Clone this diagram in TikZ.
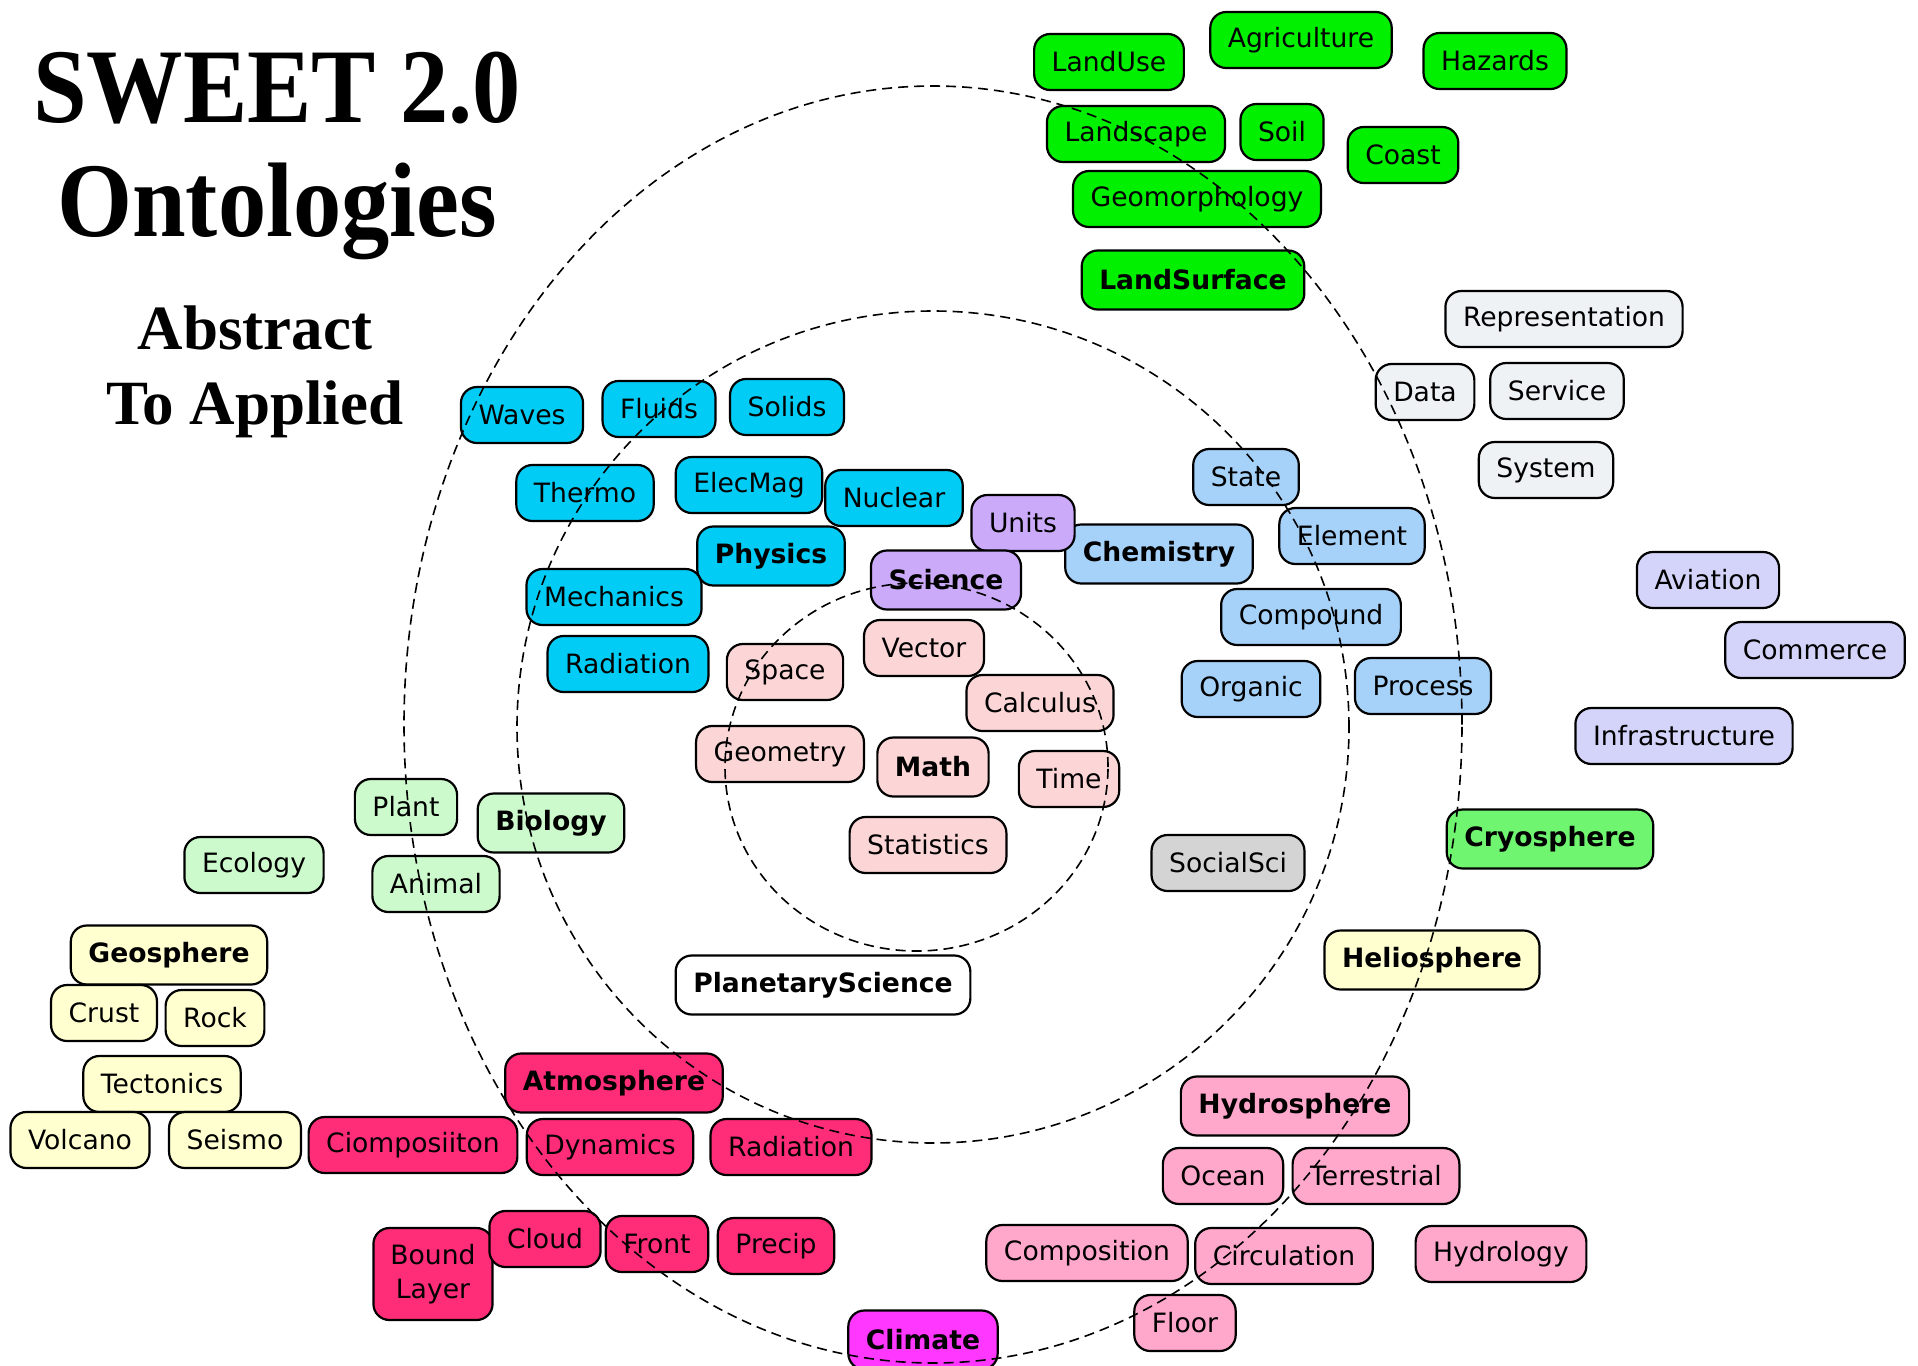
\documentclass[tikz,border=0pt]{standalone}
\usepackage{fontspec}
\setmainfont{DejaVu Sans}
\newfontfamily\titlefont{Liberation Serif}[FakeStretch=0.91]
\newfontfamily\subfont{Liberation Serif}

\definecolor{landgreen}{RGB}{0,240,0}
\definecolor{infogray}{RGB}{238,242,245}
\definecolor{humanlav}{RGB}{212,212,250}
\definecolor{cryogreen}{RGB}{112,245,112}
\definecolor{chemblue}{RGB}{166,210,250}
\definecolor{scipurple}{RGB}{204,170,250}
\definecolor{physcyan}{RGB}{0,204,245}
\definecolor{mathpink}{RGB}{252,214,214}
\definecolor{socgray}{RGB}{212,212,212}
\definecolor{biogreen}{RGB}{204,250,204}
\definecolor{geoyellow}{RGB}{255,255,208}
\definecolor{atmored}{RGB}{255,45,120}
\definecolor{climmagenta}{RGB}{255,55,255}
\definecolor{hydropink}{RGB}{255,168,204}

\begin{document}
\begin{tikzpicture}[x=0.5pt, y=-0.5pt,
	onto/.style = {draw, line width=1.1pt, rounded corners=8pt, inner xsep=8.8pt,
		minimum height=28pt, font=\fontsize{13.3}{16}\selectfont},
	head/.style = {font=\fontsize{13.3}{16}\selectfont\bfseries, minimum height=29.5pt},
	landbox/.style = {onto, fill=landgreen},
	infobox/.style = {onto, fill=infogray},
	humanbox/.style = {onto, fill=humanlav},
	chembox/.style = {onto, fill=chemblue},
	scibox/.style = {onto, fill=scipurple},
	physbox/.style = {onto, fill=physcyan},
	mathbox/.style = {onto, fill=mathpink},
	biobox/.style = {onto, fill=biogreen},
	geobox/.style = {onto, fill=geoyellow},
	atmobox/.style = {onto, fill=atmored},
	hydrobox/.style = {onto, fill=hydropink},
	ring/.style = {draw, line width=0.8pt, dash pattern=on 5pt off 3pt}
]
\useasboundingbox (0,0) rectangle (1918,1366);
\fill [white] (0,0) rectangle (1918,1366);

% title
\node [anchor=base, font=\titlefont\bfseries\fontsize{53}{57}\selectfont] (title) at (277,122) {SWEET 2.0};
\node [anchor=base, font=\titlefont\bfseries\fontsize{53}{57}\selectfont] (title2) at (277,236) {Ontologies};
\node [anchor=base, font=\subfont\bfseries\fontsize{31.5}{35}\selectfont] (sub) at (255,349) {Abstract};
\node [anchor=base, font=\subfont\bfseries\fontsize{31.5}{35}\selectfont] (sub2) at (255,424) {To Applied};

% land surface
\node [landbox] (landuse) at (1109,62) {LandUse};
\node [landbox] (agri) at (1301,40) {Agriculture};
\node [landbox] (hazards) at (1495,61) {Hazards};
\node [landbox] (landscape) at (1136,134) {Landscape};
\node [landbox] (soil) at (1282,132) {Soil};
\node [landbox] (coast) at (1403,155) {Coast};
\node [landbox] (geomorph) at (1197,199) {Geomorphology};
\node [landbox, head] (landsurf) at (1193,280) {LandSurface};

% data / representation
\node [infobox] (repr) at (1564,319) {Representation};
\node [infobox] (data) at (1425,392) {Data};
\node [infobox] (service) at (1557,391) {Service};
\node [infobox] (system) at (1546,470) {System};

% human activities
\node [humanbox] (aviation) at (1708,580) {Aviation};
\node [humanbox] (commerce) at (1815,650) {Commerce};
\node [humanbox] (infra) at (1684,736) {Infrastructure};

\node [onto, head, fill=cryogreen] (cryo) at (1550,839) {Cryosphere};

% chemistry
\node [chembox] (state) at (1246,477) {State};
\node [chembox] (element) at (1352,536) {Element};
\node [chembox, head] (chem) at (1159,554) {Chemistry};
\node [chembox] (compound) at (1311,617) {Compound};
\node [chembox] (organic) at (1251,689) {Organic};
\node [chembox] (process) at (1423,686) {Process};

\node [scibox] (units) at (1023,523) {Units};
\node [scibox, head] (science) at (946,580) {Science};

% physics
\node [physbox] (waves) at (522,415) {Waves};
\node [physbox] (fluids) at (659,409) {Fluids};
\node [physbox] (solids) at (787,407) {Solids};
\node [physbox] (thermo) at (585,493) {Thermo};
\node [physbox] (elecmag) at (749,485) {ElecMag};
\node [physbox] (nuclear) at (894,498) {Nuclear};
\node [physbox, head] (physics) at (771,556) {Physics};
\node [physbox] (mechanics) at (614,597) {Mechanics};
\node [physbox] (physrad) at (628,664) {Radiation};

% math
\node [mathbox] (space) at (785,672) {Space};
\node [mathbox] (vector) at (924,648) {Vector};
\node [mathbox] (calculus) at (1040,703) {Calculus};
\node [mathbox] (geometry) at (780,754) {Geometry};
\node [mathbox, head] (math) at (933,767) {Math};
\node [mathbox] (time) at (1069,779) {Time};
\node [mathbox] (stats) at (928,845) {Statistics};

\node [onto, fill=socgray] (socialsci) at (1228,863) {SocialSci};
\node [onto, head, fill=white] (planetary) at (823,985) {PlanetaryScience};

% biosphere
\node [biobox] (plant) at (406,807) {Plant};
\node [biobox, head] (biology) at (551,823) {Biology};
\node [biobox] (ecology) at (254,865) {Ecology};
\node [biobox] (animal) at (436,884) {Animal};

% geosphere
\node [geobox, head] (geosphere) at (169,955) {Geosphere};
\node [geobox] (crust) at (104,1013) {Crust};
\node [geobox] (rock) at (215,1018) {Rock};
\node [geobox] (tectonics) at (162,1084) {Tectonics};
\node [geobox] (volcano) at (80,1140) {Volcano};
\node [geobox] (seismo) at (235,1140) {Seismo};
\node [geobox, head] (helio) at (1432,960) {Heliosphere};

% atmosphere
\node [atmobox, head] (atmosphere) at (614,1083) {Atmosphere};
\node [atmobox] (atmocomp) at (413,1145) {Ciomposiiton};
\node [atmobox] (dynamics) at (610,1147) {Dynamics};
\node [atmobox] (atmorad) at (791,1147) {Radiation};
\node [atmobox, align=center, font=\fontsize{13.3}{17}\selectfont, minimum height=46pt, inner xsep=8.5pt] (boundlayer) at (433,1274) {Bound\\Layer};
\node [atmobox] (cloud) at (545,1239) {Cloud};
\node [atmobox] (front) at (657,1244) {Front};
\node [atmobox] (precip) at (776,1246) {Precip};

\node [onto, head, fill=climmagenta] (climate) at (923,1340) {Climate};

% hydrosphere
\node [hydrobox, head] (hydrosphere) at (1295,1106) {Hydrosphere};
\node [hydrobox] (ocean) at (1223,1176) {Ocean};
\node [hydrobox] (terrestrial) at (1376,1176) {Terrestrial};
\node [hydrobox] (hydrocomp) at (1087,1253) {Composition};
\node [hydrobox] (circulation) at (1284,1256) {Circulation};
\node [hydrobox] (hydrology) at (1501,1254) {Hydrology};
\node [hydrobox] (floor) at (1185,1323) {Floor};

% rings, abstract to applied
\draw [ring] (933,724.5) ellipse [x radius=264.5pt, y radius=319.25pt];
\draw [ring] (933,727) circle [radius=208pt];
\draw [ring] (916.5,767) ellipse [x radius=95.75pt, y radius=92pt];
\end{tikzpicture}
\end{document}
